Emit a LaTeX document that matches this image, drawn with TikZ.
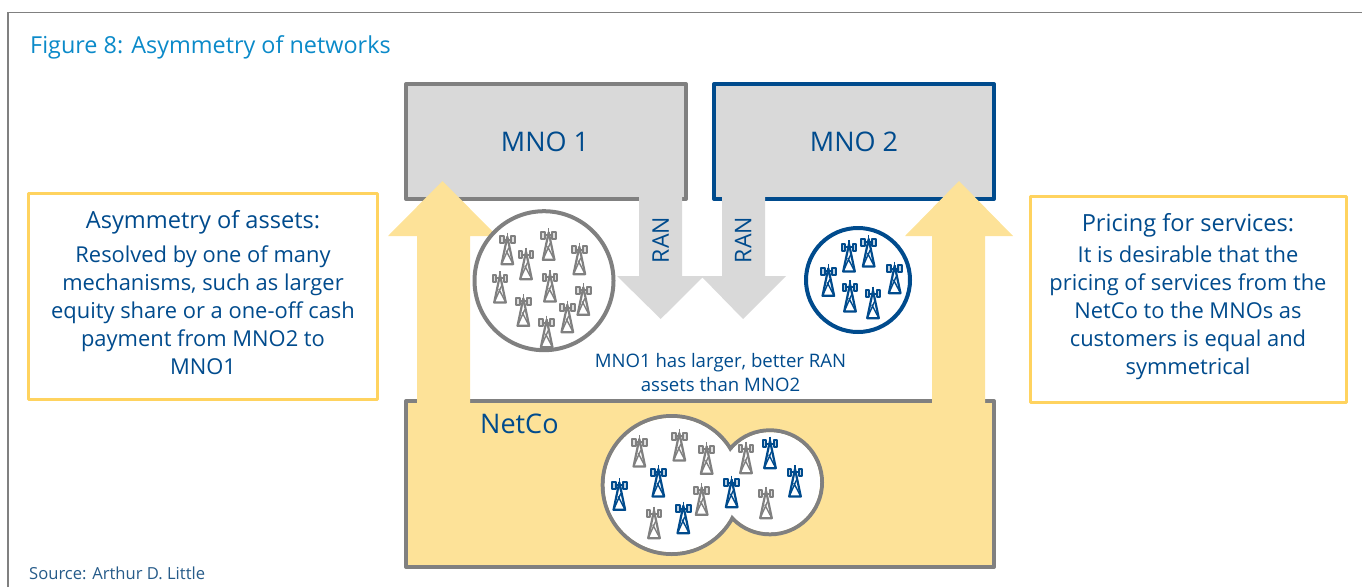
\documentclass[tikz,border=0pt]{standalone}
\usepackage{fontspec}
\setmainfont{Open Sans}
\definecolor{adlblue}{HTML}{004B8D}
\definecolor{adlgray}{HTML}{808080}
\definecolor{adllight}{HTML}{D9D9D9}
\definecolor{adlsand}{HTML}{FDE298}
\definecolor{adlgold}{HTML}{FFD35F}
\definecolor{adlsky}{HTML}{0B8AC9}
\newcommand{\twr}[3]{%
  \begin{scope}[shift={(#1,#2)},draw=#3,fill=#3,line join=round]
    \draw[line width=1.1pt] (0,0) -- (0,6);
    \draw[line width=2.2pt] (0,4) -- (-5.8,31.5) -- (5.8,31.5) -- cycle;
    \draw[line width=1.4pt] (-5.8,31.5) -- (1.5,15) (5.8,31.5) -- (-1.2,18);
    \draw[line width=2pt] (-6,7) -- (6,7);
    \draw[line width=2pt,fill=#3!25!white] (-7.4,3.5) rectangle (-3.8,10.5);
    \draw[line width=2pt,fill=#3!25!white] (3.8,3.5) rectangle (7.4,10.5);
  \end{scope}}
\tikzset{
  boxgray/.style={draw=adlgray,fill=adllight,line width=4pt,line join=round,outer sep=0pt},
  boxblue/.style={draw=adlblue,fill=adllight,line width=4pt,line join=round,outer sep=0pt},
  upar/.style={fill=adlsand,draw=none},
  downar/.style={fill=adllight,draw=none},
  note/.style={draw=adlgold,line width=2.8pt,fill=white,outer sep=0pt,line join=round},
  tx/.style={text=adlblue,inner sep=0pt,align=center},
}
\begin{document}
\begin{tikzpicture}[x=1pt,y=-1pt]
\useasboundingbox (0,0) rectangle (1362,587);
\draw[adlgray,line width=1.4pt] (8,587) -- (8,12.5) -- (1362,12.5);
\node[anchor=base west,inner sep=0pt,text=adlsky,font=\fontsize{23.4}{28}\selectfont] (title) at (30,53) {Figure 8: Asymmetry of networks};
% boxes
\node[boxgray,minimum width=280pt,minimum height=115pt,inner sep=0pt,anchor=north west] (mno1) at (406,84) {};
\node[boxblue,minimum width=280pt,minimum height=115pt,inner sep=0pt,anchor=north west] (mno2) at (714,84) {};
\node[boxgray,fill=adlsand,minimum width=588pt,minimum height=166pt,inner sep=0pt,anchor=north west] (netco) at (406,401) {};
\node[tx,font=\fontsize{27}{32}\selectfont] (l1) at (545,142) {MNO 1};
\node[tx,font=\fontsize{27}{32}\selectfont] (l2) at (854,142) {MNO 2};
% RAN arrows
\fill[downar] (639,195) -- (682,195) -- (682,276) -- (704,276) -- (660.7,319) -- (617,276) -- (639,276) -- cycle;
\fill[downar] (722,195) -- (765,195) -- (765,276) -- (786,276) -- (743,319) -- (701,276) -- (722,276) -- cycle;
\node[tx,rotate=90,font=\fontsize{23}{28}\selectfont] (r1) at (660.5,240) {RAN};
\node[tx,rotate=90,font=\fontsize{23}{28}\selectfont] (r2) at (743,240) {RAN};
% yellow arrows
\fill[upar] (417,420) -- (417,236) -- (388,236) -- (442.5,181) -- (497,236) -- (470,236) -- (470,420) -- cycle;
\fill[upar] (932,420) -- (932,236) -- (905,236) -- (959,181) -- (1013,236) -- (985,236) -- (985,420) -- cycle;
% circles
\node[draw=adlgray,fill=white,line width=4pt,circle,minimum size=139pt,inner sep=0pt,outer sep=0pt] (c1) at (544,280.7) {};
\node[draw=adlblue,fill=white,line width=4pt,circle,minimum size=104pt,inner sep=0pt,outer sep=0pt] (c2) at (858,280) {};
\foreach \zx/\zy in {112/98,168/143,236/85,328/128,90/213,160/283,240/210,340/250,292/302,230/347}
  {\twr{470+\zx/3}{200+\zy/3}{adlgray}}
\foreach \zx/\zy in {177/90,236/75,115/163,180/210,249/230,314/155}
  {\twr{790+\zx/3}{210+\zy/3}{adlblue}}
% NetCo pool
\draw[adlgray,line width=4pt] (671.7,485) circle (69pt) (770,482.3) circle (52pt);
\fill[white] (671.7,485) circle (67pt) (770,482.3) circle (50pt);
\foreach \zx/\zy in {148/90,268/72,350/112,468/110,335/235,528/245,192/305}
  {\twr{590+\zx/3}{405+\zy/3}{adlgray}}
\foreach \zx/\zy in {205/180,88/220,540/95,615/180,425/212,280/290}
  {\twr{590+\zx/3}{405+\zy/3}{adlblue}}
\node[tx,font=\fontsize{18.6}{23.5}\selectfont] (asym) at (720.5,372.5) {MNO1 has larger, better RAN\\assets than MNO2};
\node[tx,anchor=base west,font=\fontsize{27}{30}\selectfont] (nc) at (480,433) {NetCo};
% notes
\node[note,minimum width=349pt,minimum height=206pt,inner sep=0pt,anchor=north west] (left) at (28.7,193.7) {};
\node[note,minimum width=316pt,minimum height=206pt,inner sep=0pt,anchor=north west] (right) at (1030.7,196.7) {};
\node[tx,font=\fontsize{23.6}{28}\selectfont] (lh) at (203,222) {Asymmetry of assets:};
\node[tx,font=\fontsize{21.9}{28}\selectfont] (lb) at (203,310) {Resolved by one of many\\mechanisms, such as larger\\equity share or a one-off cash\\payment from MNO2 to\\MNO1};
\node[tx,font=\fontsize{23.6}{28}\selectfont] (rh) at (1188,225) {Pricing for services:};
\node[tx,font=\fontsize{21.9}{28}\selectfont] (rb) at (1188,313) {It is desirable that the\\pricing of services from the\\NetCo to the MNOs as\\customers is equal and\\symmetrical};
\node[anchor=base west,inner sep=0pt,text=adlblue!70!gray,font=\fontsize{16.6}{18}\selectfont] (src) at (29,579) {Source: Arthur D. Little};
\end{tikzpicture}
\end{document}
